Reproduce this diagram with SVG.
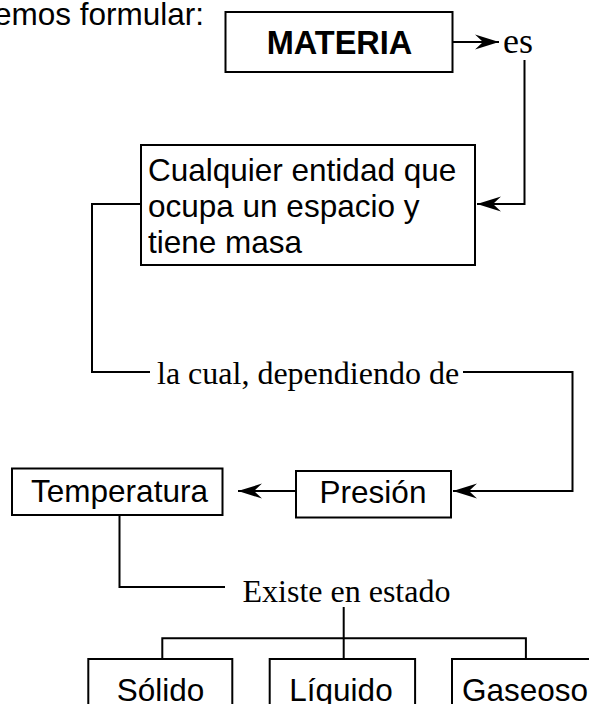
<svg xmlns="http://www.w3.org/2000/svg" width="589" height="704" viewBox="0 0 589 704">
<style>
.box{fill:#fff;stroke:#000;stroke-width:2}
.sans{font-family:"Liberation Sans",Arial,sans-serif;font-size:31.5px;fill:#000}
.serif{font-family:"Liberation Serif","Times New Roman",serif;font-size:32px;fill:#000}
.bold{font-weight:bold;font-size:32.5px}
.big{font-size:36px}
.ln{fill:none;stroke:#000;stroke-width:2}
</style>
<defs>
<marker id="arr" markerUnits="userSpaceOnUse" markerWidth="28" markerHeight="20" viewBox="-26 -10 28 20" refX="0" refY="0" orient="auto">
<path d="M0,0 L-24,-7.5 L-16,0 L-24,7.5 Z" fill="#000"/>
</marker>
</defs>
<rect width="589" height="704" fill="#fff"/>
<text class="sans" x="204" y="25" text-anchor="end">emos formular:</text>
<g id="connectors">
<path class="ln" d="M452,42 H499" marker-end="url(#arr)"/>
<path class="ln" d="M524.5,60 V204 H477" marker-end="url(#arr)"/>
<path class="ln" d="M141,204 H92 V372 H150"/>
<path class="ln" d="M463,372 H572.5 V491 H453" marker-end="url(#arr)"/>
<path class="ln" d="M296,491 H238" marker-end="url(#arr)"/>
<path class="ln" d="M119.5,515 V587 H225"/>
<path class="ln" d="M343.7,607 V659"/>
<path class="ln" d="M162.3,659 V638.3 H525.9 V659"/>
</g>
<g id="n-materia">
<rect class="box" x="225.5" y="12" width="227" height="60"/>
<text class="sans bold" x="339.5" y="53.5" text-anchor="middle">MATERIA</text>
</g>
<g id="l-es"><text class="serif big" x="503" y="52.5">es</text></g>
<g id="n-cualquier">
<rect class="box" x="141" y="145" width="334" height="120"/>
<text class="sans"><tspan x="148" y="181">Cualquier entidad que</tspan><tspan x="148" y="217">ocupa un espacio y</tspan><tspan x="148" y="253">tiene masa</tspan></text>
</g>
<g id="l-cual"><text class="serif" x="157" y="384">la cual, dependiendo de</text></g>
<g id="n-presion">
<rect class="box" x="296" y="471" width="155" height="46.5"/>
<text class="sans" x="373" y="503" text-anchor="middle">Presión</text>
</g>
<g id="n-temperatura">
<rect class="box" x="12" y="468.5" width="210.5" height="46.5"/>
<text class="sans" x="119.5" y="502" text-anchor="middle">Temperatura</text>
</g>
<g id="l-existe"><text class="serif" x="242.5" y="601.5">Existe en estado</text></g>
<g id="n-solido">
<rect class="box" x="88.3" y="659" width="144" height="60"/>
<text class="sans" x="160.5" y="701" text-anchor="middle">Sólido</text>
</g>
<g id="n-liquido">
<rect class="box" x="269.7" y="659" width="145.4" height="60"/>
<text class="sans" x="341" y="701" text-anchor="middle">Líquido</text>
</g>
<g id="n-gaseoso">
<rect class="box" x="452" y="659" width="150" height="60"/>
<text class="sans" x="462" y="701">Gaseoso</text>
</g>
</svg>
